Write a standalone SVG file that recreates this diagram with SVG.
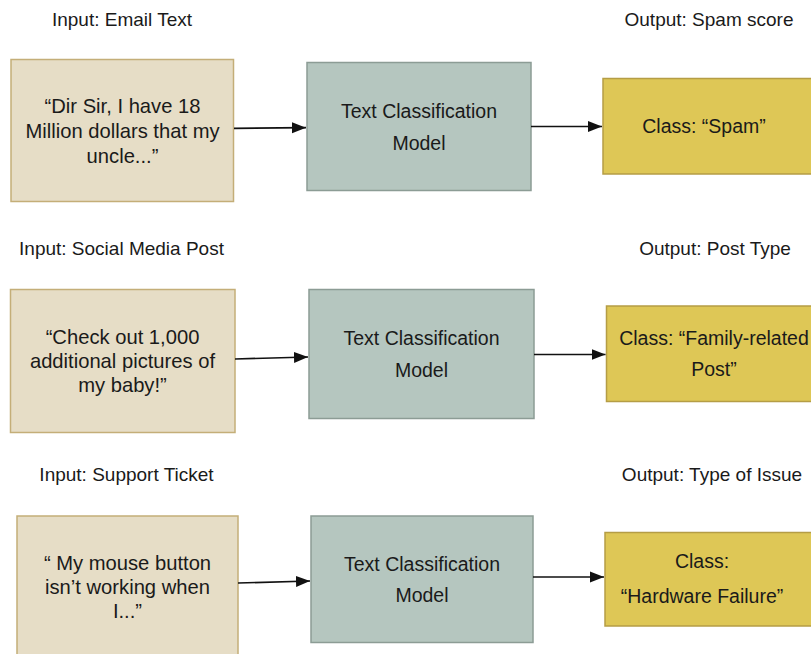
<svg xmlns="http://www.w3.org/2000/svg" width="811" height="654" viewBox="0 0 811 654">
  <defs>
    <marker id="arrow" viewBox="0 0 14 12" refX="14" refY="6" markerWidth="14" markerHeight="12" markerUnits="userSpaceOnUse" orient="auto">
      <path d="M0,0.5 L14,6 L0,11.5 Z" fill="#111"/>
    </marker>
    <style>
      text { font-family: "Liberation Sans", Arial, sans-serif; fill: #1a1a1a; text-anchor: middle; }
      .hdr { font-size: 19px; }
      .lbl { font-size: 19.5px; }
      .input text { font-size: 20.2px; }
      .input rect { fill: #E6DDC6; stroke: #C4AE78; stroke-width: 1.5; }
      .model rect { fill: #B5C6BF; stroke: #8C9C95; stroke-width: 1.5; }
      .cls rect { fill: #DEC756; stroke: #B59D45; stroke-width: 1.5; }
      .edge { stroke: #111; stroke-width: 1.7; fill: none; marker-end: url(#arrow); }
    </style>
  </defs>

  <rect width="811" height="654" fill="#ffffff"/>

  <!-- row headers -->
  <g id="headers">
    <text class="hdr" x="122" y="26">Input: Email Text</text>
    <text class="hdr" x="709" y="26">Output: Spam score</text>
    <text class="hdr" x="121.5" y="255">Input: Social Media Post</text>
    <text class="hdr" x="715" y="255">Output: Post Type</text>
    <text class="hdr" x="126.5" y="481">Input: Support Ticket</text>
    <text class="hdr" x="712" y="481">Output: Type of Issue</text>
  </g>

  <!-- row 1: email -->
  <g id="input-email" class="input">
    <rect x="11" y="59.5" width="222.5" height="142"/>
    <text class="lbl" x="122.5" y="113">“Dir Sir, I have 18</text>
    <text class="lbl" x="122.5" y="138">Million dollars that my</text>
    <text class="lbl" x="122.5" y="163">uncle...”</text>
  </g>
  <g id="model-email" class="model">
    <rect x="307" y="62.5" width="224" height="128"/>
    <text class="lbl" x="419" y="118">Text Classification</text>
    <text class="lbl" x="419" y="150">Model</text>
  </g>
  <g id="class-spam" class="cls">
    <rect x="603" y="78.5" width="215" height="95.5"/>
    <text class="lbl" x="704" y="133">Class: “Spam”</text>
  </g>

  <!-- row 2: social media -->
  <g id="input-social" class="input">
    <rect x="10.5" y="289.5" width="224.5" height="143"/>
    <text class="lbl" x="122.5" y="344">“Check out 1,000</text>
    <text class="lbl" x="122.5" y="368">additional pictures of</text>
    <text class="lbl" x="122.5" y="392">my baby!”</text>
  </g>
  <g id="model-social" class="model">
    <rect x="309" y="289.5" width="225" height="129"/>
    <text class="lbl" x="421.5" y="345">Text Classification</text>
    <text class="lbl" x="421.5" y="377">Model</text>
  </g>
  <g id="class-family" class="cls">
    <rect x="606.5" y="306" width="215" height="95.5"/>
    <text class="lbl" x="714" y="345">Class: “Family-related</text>
    <text class="lbl" x="714" y="376">Post”</text>
  </g>

  <!-- row 3: support ticket -->
  <g id="input-ticket" class="input">
    <rect x="17" y="516" width="221" height="150"/>
    <text class="lbl" x="127.5" y="570">“ My mouse button</text>
    <text class="lbl" x="127.5" y="594">isn’t working when</text>
    <text class="lbl" x="127.5" y="618">I...”</text>
  </g>
  <g id="model-ticket" class="model">
    <rect x="311" y="516" width="222" height="126.5"/>
    <text class="lbl" x="422" y="571">Text Classification</text>
    <text class="lbl" x="422" y="602">Model</text>
  </g>
  <g id="class-hardware" class="cls">
    <rect x="605" y="532.5" width="215" height="93.5"/>
    <text class="lbl" x="702" y="568">Class:</text>
    <text class="lbl" x="702" y="603">“Hardware Failure”</text>
  </g>

  <!-- connectors -->
  <g id="connectors">
    <line class="edge" x1="234" y1="128.3" x2="306" y2="127.7"/>
    <line class="edge" x1="531" y1="126.5" x2="602" y2="126.5"/>
    <line class="edge" x1="235" y1="359" x2="308" y2="357"/>
    <line class="edge" x1="534" y1="354.5" x2="605.5" y2="354.5"/>
    <line class="edge" x1="238" y1="583" x2="310" y2="581"/>
    <line class="edge" x1="533" y1="577" x2="604" y2="577"/>
  </g>
</svg>
